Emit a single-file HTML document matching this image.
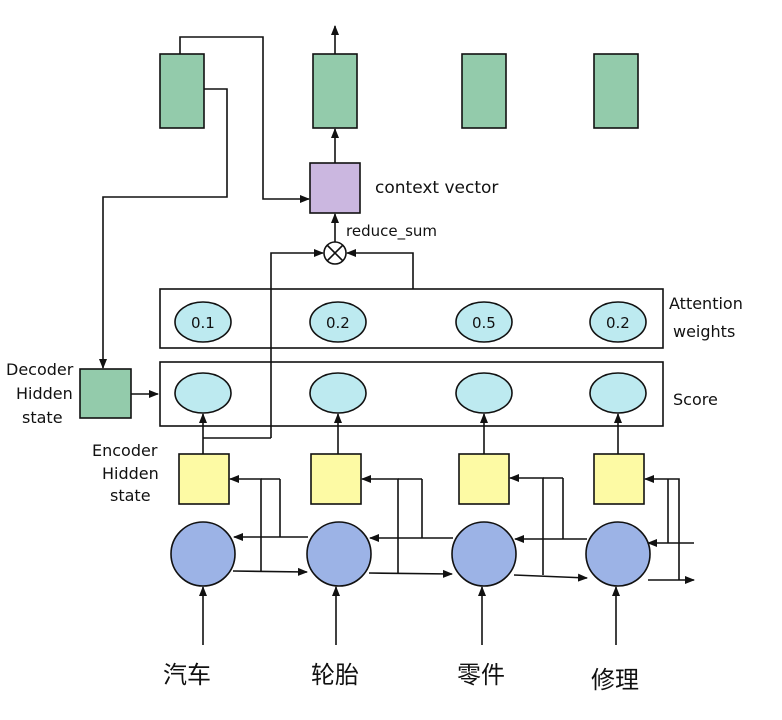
<!DOCTYPE html>
<html><head><meta charset="utf-8"><style>
html,body{margin:0;padding:0;background:#fff;}
svg{display:block;}
text{font-family:"DejaVu Sans","Liberation Sans","Noto Sans CJK SC",sans-serif;fill:#111;}
</style></head><body>
<svg width="782" height="720" viewBox="0 0 782 720" xmlns="http://www.w3.org/2000/svg">
<defs>
<marker id="a" markerWidth="10" markerHeight="10" refX="9" refY="5" orient="auto" markerUnits="userSpaceOnUse"><path d="M0,1 L10,5 L0,9 Z" fill="#111"/></marker>
</defs>
<g stroke="#111" stroke-width="1.6" fill="none">
<!-- top green rects -->
<rect x="160" y="54" width="44" height="74" fill="#6fb98f" fill-opacity="0.75"/>
<rect x="313" y="54" width="44" height="74" fill="#6fb98f" fill-opacity="0.75"/>
<rect x="462" y="54" width="44" height="74" fill="#6fb98f" fill-opacity="0.75"/>
<rect x="594" y="54" width="44" height="74" fill="#6fb98f" fill-opacity="0.75"/>
<line x1="335" y1="54" x2="335" y2="26" marker-end="url(#a)"/>
<!-- context -->
<rect x="310" y="163" width="50" height="50" fill="#cbb7e0"/>
<line x1="335" y1="163" x2="335" y2="129" marker-end="url(#a)"/>
<polyline points="180,54 180,37 263,37 263,199 309,199" marker-end="url(#a)"/>
<polyline points="204,89 227,89 227,197 103,197 103,368" marker-end="url(#a)"/>
<circle cx="335" cy="253" r="11" fill="#fff"/>
<line x1="327" y1="245" x2="343" y2="261"/><line x1="343" y1="245" x2="327" y2="261"/>
<line x1="335" y1="242" x2="335" y2="214" marker-end="url(#a)"/>
<polyline points="271,438 271,253 323,253" marker-end="url(#a)"/>
<polyline points="413,289 413,253 347,253" marker-end="url(#a)"/>
<!-- boxes -->
<rect x="160" y="289" width="503" height="59"/>
<rect x="160" y="362" width="503" height="64"/>
<g fill="#bdeaf0">
<ellipse cx="203" cy="322" rx="28" ry="20"/><ellipse cx="338" cy="322" rx="28" ry="20"/>
<ellipse cx="484" cy="322" rx="28" ry="20"/><ellipse cx="618" cy="322" rx="28" ry="20"/>
<ellipse cx="203" cy="393" rx="28" ry="20"/><ellipse cx="338" cy="393" rx="28" ry="20"/>
<ellipse cx="484" cy="393" rx="28" ry="20"/><ellipse cx="618" cy="393" rx="28" ry="20"/>
</g>
<!-- decoder -->
<rect x="80" y="369" width="51" height="49" fill="#6fb98f" fill-opacity="0.75"/>
<line x1="131" y1="394" x2="158" y2="394" marker-end="url(#a)"/>
<!-- yellow -->
<g fill="#fdfaa4">
<rect x="179" y="454" width="50" height="50"/><rect x="311" y="454" width="50" height="50"/>
<rect x="459" y="454" width="50" height="50"/><rect x="594" y="454" width="50" height="50"/>
</g>
<line x1="203" y1="454" x2="203" y2="414" marker-end="url(#a)"/>
<line x1="338" y1="454" x2="338" y2="414" marker-end="url(#a)"/>
<line x1="484" y1="454" x2="484" y2="414" marker-end="url(#a)"/>
<line x1="618" y1="454" x2="618" y2="414" marker-end="url(#a)"/>
<polyline points="203,438 271,438"/>
<!-- circles -->
<g fill="#9cb3e6">
<circle cx="203" cy="554" r="32"/><circle cx="339" cy="554" r="32"/>
<circle cx="484" cy="554" r="32"/><circle cx="618" cy="554" r="32"/>
</g>
<!-- forward -->
<line x1="233" y1="571" x2="307" y2="572" marker-end="url(#a)"/>
<line x1="369" y1="573" x2="452" y2="574" marker-end="url(#a)"/>
<line x1="514" y1="575" x2="587" y2="578" marker-end="url(#a)"/>
<line x1="648" y1="580" x2="694" y2="580" marker-end="url(#a)"/>
<!-- backward -->
<line x1="308" y1="537" x2="234" y2="537" marker-end="url(#a)"/>
<line x1="453" y1="538" x2="370" y2="538" marker-end="url(#a)"/>
<line x1="587" y1="539" x2="515" y2="539" marker-end="url(#a)"/>
<line x1="694" y1="543" x2="648" y2="543" marker-end="url(#a)"/>
<!-- to yellow -->
<polyline points="261,572 261,479 230,479" marker-end="url(#a)"/><line x1="261" y1="479" x2="280" y2="479"/><line x1="280" y1="479" x2="280" y2="537"/>
<polyline points="398,573 398,479 362,479" marker-end="url(#a)"/><line x1="398" y1="479" x2="422" y2="479"/><line x1="422" y1="479" x2="422" y2="538"/>
<polyline points="543,575 543,478 510,478" marker-end="url(#a)"/><line x1="543" y1="478" x2="563" y2="478"/><line x1="563" y1="478" x2="563" y2="539"/>
<polyline points="679,580 679,479 645,479" marker-end="url(#a)"/><line x1="668" y1="479" x2="668" y2="543"/>
<!-- inputs -->
<line x1="203" y1="645" x2="203" y2="587" marker-end="url(#a)"/>
<line x1="336" y1="645" x2="336" y2="587" marker-end="url(#a)"/>
<line x1="482" y1="645" x2="482" y2="587" marker-end="url(#a)"/>
<line x1="616" y1="645" x2="616" y2="587" marker-end="url(#a)"/>
</g>
<g font-size="15">
<text x="191" y="328">0.1</text><text x="326" y="328">0.2</text><text x="472" y="328">0.5</text><text x="606" y="328">0.2</text>
<text x="375" y="193" font-size="17">context vector</text>
<text x="346" y="236">reduce_sum</text>
<text x="669" y="309" font-size="16">Attention</text>
<text x="673" y="337" font-size="16">weights</text>
<text x="673" y="405" font-size="16">Score</text>
<text x="6" y="375" font-size="16">Decoder</text>
<text x="16" y="399" font-size="16">Hidden</text>
<text x="22" y="423" font-size="16">state</text>
<text x="92" y="456" font-size="16">Encoder</text>
<text x="102" y="479" font-size="16">Hidden</text>
<text x="110" y="501" font-size="16">state</text>
</g>
<g font-size="24">
<text x="163" y="683">汽车</text><text x="311" y="683">轮胎</text><text x="457" y="683">零件</text><text x="591" y="688">修理</text>
</g>
</svg>
</body></html>
